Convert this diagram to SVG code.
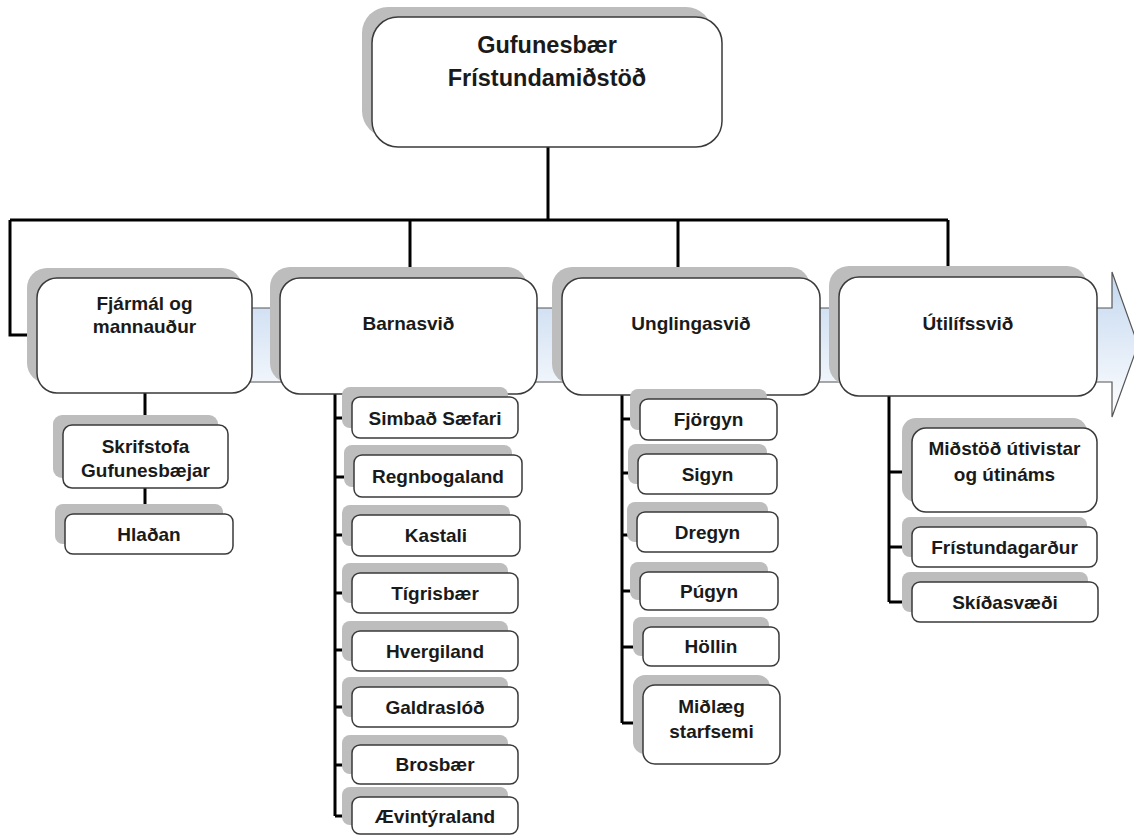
<svg xmlns="http://www.w3.org/2000/svg" width="1134" height="835" viewBox="0 0 1134 835">
<defs>
<linearGradient id="band" x1="0" y1="0" x2="0" y2="1">
<stop offset="0" stop-color="#c3d7ef"/>
<stop offset="1" stop-color="#ffffff"/>
</linearGradient>
<linearGradient id="head" x1="0" y1="0" x2="0" y2="1">
<stop offset="0" stop-color="#c3d7ef"/>
<stop offset="0.6" stop-color="#e3ecf7"/>
<stop offset="1" stop-color="#ffffff"/>
</linearGradient>
</defs>
<style>
.sh{fill:#bdbdbd;}
.bx{fill:#ffffff;stroke:#3a3a3a;stroke-width:1.5;}
.c{fill:none;stroke:#000;stroke-width:3;}
text{font-family:"Liberation Sans",Arial,sans-serif;font-weight:bold;fill:#1a1a1a;text-anchor:middle;font-size:19px;}
.t{font-size:23.5px;}
</style>
<rect width="1134" height="835" fill="#ffffff"/>
<g id="arrow">
<polygon points="40,308 1112,308 1112,272 1138,345 1112,417 1112,382 40,382" fill="url(#band)" stroke="#555" stroke-width="1.2"/>
</g>
<g id="connectors">
<path class="c" d="M548,147V220M10,220H948M10,220V335H37M410,220V277M678,220V277M948,220V277"/>
<path class="c" d="M145,393V425M145,488V514"/>
<path class="c" d="M335,393V816M335,418H352M335,477H354M335,535H352M335,593H352M335,650H352M335,707H352M335,765H352M335,816H352"/>
<path class="c" d="M622,393V723M622,419H640M622,473H638M622,535H637M622,591H640M622,647H643M622,723H643"/>
<path class="c" d="M889,396V602M889,472H912M889,547H912M889,602H912"/>
</g>
<g id="root">
<rect class="sh" x="362" y="7" width="350" height="130" rx="26"/>
<rect class="bx" x="372" y="17" width="350" height="130" rx="26"/>
<text class="t" x="547" y="53">Gufunesbær</text>
<text class="t" x="547" y="86">Frístundamiðstöð</text>
</g>
<g id="fjarmal">
<rect class="sh" x="27" y="268" width="215" height="115" rx="20"/>
<rect class="bx" x="37" y="278" width="215" height="115" rx="20"/>
<text x="144.5" y="310">Fjármál og</text>
<text x="144.5" y="333">mannauður</text>
</g>
<g id="barnasvid">
<rect class="sh" x="270" y="267" width="257" height="116" rx="20"/>
<rect class="bx" x="280" y="278" width="257" height="116" rx="20"/>
<text x="408.5" y="330">Barnasvið</text>
</g>
<g id="unglingasvid">
<rect class="sh" x="552" y="267" width="258" height="117" rx="20"/>
<rect class="bx" x="562" y="278" width="258" height="117" rx="20"/>
<text x="691" y="330">Unglingasvið</text>
</g>
<g id="utilifssvid">
<rect class="sh" x="829" y="266" width="258" height="119" rx="20"/>
<rect class="bx" x="839" y="277" width="258" height="119" rx="20"/>
<text x="968" y="330">Útilífssvið</text>
</g>
<g id="skrifstofa">
<rect class="sh" x="53" y="415" width="165" height="63" rx="9"/>
<rect class="bx" x="63" y="425" width="165" height="63" rx="9"/>
<text x="145.5" y="453">Skrifstofa</text>
<text x="145.5" y="477">Gufunesbæjar</text>
</g>
<g id="hladan">
<rect class="sh" x="55" y="504" width="168" height="40" rx="8"/>
<rect class="bx" x="65" y="514" width="168" height="40" rx="8"/>
<text x="149" y="541">Hlaðan</text>
</g>
<g id="simbad">
<rect class="sh" x="342" y="387" width="166" height="41" rx="8"/>
<rect class="bx" x="352" y="397" width="166" height="41" rx="8"/>
<text x="435" y="425">Simbað Sæfari</text>
</g>
<g id="regnbogaland">
<rect class="sh" x="344" y="445" width="168" height="42" rx="8"/>
<rect class="bx" x="354" y="455" width="168" height="42" rx="8"/>
<text x="438" y="483">Regnbogaland</text>
</g>
<g id="kastali">
<rect class="sh" x="342" y="505" width="168" height="41" rx="8"/>
<rect class="bx" x="352" y="515" width="168" height="41" rx="8"/>
<text x="436" y="542">Kastali</text>
</g>
<g id="tigrisbaer">
<rect class="sh" x="342" y="563" width="166" height="40" rx="8"/>
<rect class="bx" x="352" y="573" width="166" height="40" rx="8"/>
<text x="435" y="600">Tígrisbær</text>
</g>
<g id="hvergiland">
<rect class="sh" x="342" y="621" width="166" height="40" rx="8"/>
<rect class="bx" x="352" y="631" width="166" height="40" rx="8"/>
<text x="435" y="658">Hvergiland</text>
</g>
<g id="galdraslod">
<rect class="sh" x="342" y="677" width="166" height="40" rx="8"/>
<rect class="bx" x="352" y="687" width="166" height="40" rx="8"/>
<text x="435" y="714">Galdraslóð</text>
</g>
<g id="brosbaer">
<rect class="sh" x="342" y="735" width="166" height="39" rx="8"/>
<rect class="bx" x="352" y="745" width="166" height="39" rx="8"/>
<text x="435" y="771">Brosbær</text>
</g>
<g id="aevintyraland">
<rect class="sh" x="342" y="787" width="166" height="38" rx="8"/>
<rect class="bx" x="352" y="797" width="166" height="37" rx="8"/>
<text x="435" y="823">Ævintýraland</text>
</g>
<g id="fjorgyn">
<rect class="sh" x="630" y="389" width="137" height="41" rx="8"/>
<rect class="bx" x="640" y="399" width="137" height="41" rx="8"/>
<text x="708.5" y="426">Fjörgyn</text>
</g>
<g id="sigyn">
<rect class="sh" x="628" y="444" width="139" height="40" rx="8"/>
<rect class="bx" x="638" y="454" width="139" height="40" rx="8"/>
<text x="707.5" y="481">Sigyn</text>
</g>
<g id="dregyn">
<rect class="sh" x="627" y="502" width="141" height="40" rx="8"/>
<rect class="bx" x="637" y="512" width="141" height="40" rx="8"/>
<text x="707.5" y="539">Dregyn</text>
</g>
<g id="pugyn">
<rect class="sh" x="630" y="562" width="138" height="38" rx="8"/>
<rect class="bx" x="640" y="572" width="138" height="38" rx="8"/>
<text x="709" y="598">Púgyn</text>
</g>
<g id="hollin">
<rect class="sh" x="633" y="617" width="136" height="39" rx="8"/>
<rect class="bx" x="643" y="627" width="136" height="39" rx="8"/>
<text x="711" y="653">Höllin</text>
</g>
<g id="midlaeg">
<rect class="sh" x="633" y="675" width="137" height="79" rx="12"/>
<rect class="bx" x="643" y="685" width="137" height="79" rx="12"/>
<text x="711.5" y="713">Miðlæg</text>
<text x="711.5" y="738">starfsemi</text>
</g>
<g id="midstod">
<rect class="sh" x="902" y="418" width="185" height="84" rx="14"/>
<rect class="bx" x="912" y="428" width="185" height="84" rx="14"/>
<text x="1004.5" y="455">Miðstöð útivistar</text>
<text x="1004.5" y="481">og útináms</text>
</g>
<g id="fristundagardur">
<rect class="sh" x="902" y="517" width="185" height="40" rx="8"/>
<rect class="bx" x="912" y="527" width="185" height="40" rx="8"/>
<text x="1004.5" y="554">Frístundagarður</text>
</g>
<g id="skidasvaedi">
<rect class="sh" x="902" y="572" width="186" height="40" rx="8"/>
<rect class="bx" x="912" y="582" width="186" height="40" rx="8"/>
<text x="1005" y="609">Skíðasvæði</text>
</g>
</svg>
